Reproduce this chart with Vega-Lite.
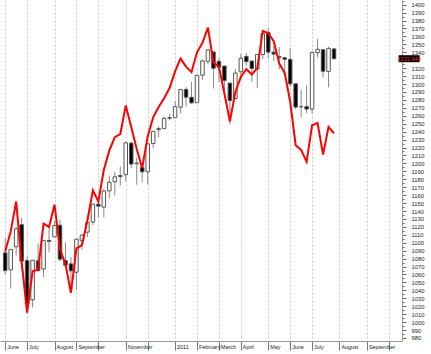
{
  "$schema": "https://vega.github.io/schema/vega-lite/v6.json",
  "width": 402,
  "height": 341,
  "autosize": {"type": "none"},
  "padding": {"left": 0, "top": 0, "right": 29, "bottom": 13},
  "background": "white",
  "config": {
    "view": {"stroke": null},
    "font": "Liberation Sans",
    "axis": {"labelFont": "Liberation Sans", "labelFontSize": 6, "labelColor": "#222", "labelOverlap": false, "labelFlush": false, "labelBound": false, "title": null},
    "axisY": {"grid": false, "domainColor": "#999", "tickColor": "#666", "labelPadding": 5, "labelFontSize": 5.8}
  },
  "data": {"values": [
    {"date": "2010-06-04T00:00:00", "open": 1087.3, "high": 1105.7, "low": 1060.0, "close": 1064.9, "red": 1089},
    {"date": "2010-06-11T00:00:00", "open": 1065.8, "high": 1092.0, "low": 1042.2, "close": 1091.6, "red": 1114},
    {"date": "2010-06-18T00:00:00", "open": 1095.0, "high": 1120.0, "low": 1084.0, "close": 1117.5, "red": 1152},
    {"date": "2010-06-25T00:00:00", "open": 1122.8, "high": 1131.2, "low": 1067.0, "close": 1076.8, "red": 1076},
    {"date": "2010-07-02T00:00:00", "open": 1077.5, "high": 1082.6, "low": 1010.9, "close": 1022.6, "red": 1012},
    {"date": "2010-07-09T00:00:00", "open": 1028.1, "high": 1078.2, "low": 1018.4, "close": 1078.0, "red": 1064},
    {"date": "2010-07-16T00:00:00", "open": 1077.2, "high": 1099.1, "low": 1063.3, "close": 1064.9, "red": 1066},
    {"date": "2010-07-23T00:00:00", "open": 1066.9, "high": 1103.7, "low": 1056.9, "close": 1102.7, "red": 1124},
    {"date": "2010-07-30T00:00:00", "open": 1102.9, "high": 1121.0, "low": 1088.0, "close": 1101.6, "red": 1120},
    {"date": "2010-08-06T00:00:00", "open": 1107.5, "high": 1127.3, "low": 1107.5, "close": 1121.6, "red": 1148},
    {"date": "2010-08-13T00:00:00", "open": 1122.1, "high": 1129.2, "low": 1076.6, "close": 1079.3, "red": 1092},
    {"date": "2010-08-20T00:00:00", "open": 1077.6, "high": 1100.1, "low": 1069.0, "close": 1071.7, "red": 1073},
    {"date": "2010-08-27T00:00:00", "open": 1073.4, "high": 1081.6, "low": 1039.7, "close": 1064.6, "red": 1037},
    {"date": "2010-09-03T00:00:00", "open": 1062.9, "high": 1105.1, "low": 1040.9, "close": 1104.5, "red": 1093},
    {"date": "2010-09-10T00:00:00", "open": 1102.6, "high": 1110.9, "low": 1091.2, "close": 1109.6, "red": 1097},
    {"date": "2010-09-17T00:00:00", "open": 1113.4, "high": 1131.5, "low": 1107.4, "close": 1125.6, "red": 1128},
    {"date": "2010-09-24T00:00:00", "open": 1126.1, "high": 1148.9, "low": 1122.3, "close": 1148.7, "red": 1166},
    {"date": "2010-10-01T00:00:00", "open": 1148.6, "high": 1157.2, "low": 1132.1, "close": 1146.1, "red": 1152},
    {"date": "2010-10-08T00:00:00", "open": 1145.0, "high": 1167.7, "low": 1131.9, "close": 1165.2, "red": 1192},
    {"date": "2010-10-15T00:00:00", "open": 1165.3, "high": 1184.4, "low": 1155.7, "close": 1176.2, "red": 1216},
    {"date": "2010-10-22T00:00:00", "open": 1176.8, "high": 1189.4, "low": 1159.7, "close": 1183.1, "red": 1233},
    {"date": "2010-10-29T00:00:00", "open": 1184.7, "high": 1196.1, "low": 1171.7, "close": 1183.3, "red": 1237},
    {"date": "2010-11-05T00:00:00", "open": 1185.7, "high": 1227.1, "low": 1177.7, "close": 1225.9, "red": 1273},
    {"date": "2010-11-12T00:00:00", "open": 1225.6, "high": 1226.8, "low": 1194.1, "close": 1199.2, "red": 1246},
    {"date": "2010-11-19T00:00:00", "open": 1200.4, "high": 1207.4, "low": 1173.0, "close": 1199.7, "red": 1218},
    {"date": "2010-11-26T00:00:00", "open": 1194.8, "high": 1198.9, "low": 1176.0, "close": 1189.4, "red": 1194},
    {"date": "2010-12-03T00:00:00", "open": 1189.4, "high": 1225.6, "low": 1173.6, "close": 1224.7, "red": 1234},
    {"date": "2010-12-10T00:00:00", "open": 1225.0, "high": 1240.4, "low": 1219.6, "close": 1240.4, "red": 1258},
    {"date": "2010-12-17T00:00:00", "open": 1242.5, "high": 1246.7, "low": 1232.9, "close": 1243.9, "red": 1271},
    {"date": "2010-12-24T00:00:00", "open": 1243.9, "high": 1259.4, "low": 1243.9, "close": 1256.8, "red": 1282},
    {"date": "2010-12-31T00:00:00", "open": 1256.8, "high": 1262.6, "low": 1254.2, "close": 1257.6, "red": 1295},
    {"date": "2011-01-07T00:00:00", "open": 1257.6, "high": 1278.2, "low": 1257.6, "close": 1271.5, "red": 1316},
    {"date": "2011-01-14T00:00:00", "open": 1270.8, "high": 1293.2, "low": 1262.7, "close": 1293.2, "red": 1332},
    {"date": "2011-01-21T00:00:00", "open": 1293.2, "high": 1296.1, "low": 1271.3, "close": 1283.4, "red": 1322},
    {"date": "2011-01-28T00:00:00", "open": 1283.3, "high": 1302.7, "low": 1275.1, "close": 1276.3, "red": 1315},
    {"date": "2011-02-04T00:00:00", "open": 1276.5, "high": 1311.0, "low": 1276.5, "close": 1310.9, "red": 1340},
    {"date": "2011-02-11T00:00:00", "open": 1311.2, "high": 1330.8, "low": 1305.3, "close": 1329.2, "red": 1352},
    {"date": "2011-02-18T00:00:00", "open": 1328.7, "high": 1344.1, "low": 1324.6, "close": 1343.0, "red": 1371},
    {"date": "2011-02-25T00:00:00", "open": 1340.4, "high": 1340.4, "low": 1294.3, "close": 1319.9, "red": 1327},
    {"date": "2011-03-04T00:00:00", "open": 1328.6, "high": 1332.3, "low": 1302.6, "close": 1321.2, "red": 1322},
    {"date": "2011-03-11T00:00:00", "open": 1322.7, "high": 1322.7, "low": 1291.3, "close": 1304.3, "red": 1288},
    {"date": "2011-03-18T00:00:00", "open": 1301.2, "high": 1301.2, "low": 1249.1, "close": 1279.2, "red": 1253},
    {"date": "2011-03-25T00:00:00", "open": 1281.7, "high": 1319.2, "low": 1281.7, "close": 1313.8, "red": 1290},
    {"date": "2011-04-01T00:00:00", "open": 1315.5, "high": 1337.9, "low": 1305.3, "close": 1332.4, "red": 1309},
    {"date": "2011-04-08T00:00:00", "open": 1334.8, "high": 1339.5, "low": 1322.9, "close": 1328.2, "red": 1319},
    {"date": "2011-04-15T00:00:00", "open": 1329.0, "high": 1329.0, "low": 1302.6, "close": 1319.7, "red": 1312},
    {"date": "2011-04-22T00:00:00", "open": 1319.1, "high": 1337.5, "low": 1294.7, "close": 1337.4, "red": 1320},
    {"date": "2011-04-29T00:00:00", "open": 1337.1, "high": 1364.6, "low": 1331.5, "close": 1363.6, "red": 1367},
    {"date": "2011-05-06T00:00:00", "open": 1365.2, "high": 1370.6, "low": 1332.5, "close": 1340.2, "red": 1364},
    {"date": "2011-05-13T00:00:00", "open": 1340.2, "high": 1348.0, "low": 1329.0, "close": 1337.8, "red": 1354},
    {"date": "2011-05-20T00:00:00", "open": 1334.8, "high": 1346.8, "low": 1318.5, "close": 1333.3, "red": 1326},
    {"date": "2011-05-27T00:00:00", "open": 1333.1, "high": 1334.2, "low": 1311.8, "close": 1331.1, "red": 1314},
    {"date": "2011-06-03T00:00:00", "open": 1331.1, "high": 1345.2, "low": 1296.8, "close": 1300.2, "red": 1278},
    {"date": "2011-06-10T00:00:00", "open": 1300.3, "high": 1300.3, "low": 1268.3, "close": 1271.0, "red": 1223},
    {"date": "2011-06-17T00:00:00", "open": 1271.3, "high": 1292.5, "low": 1258.1, "close": 1271.5, "red": 1217},
    {"date": "2011-06-24T00:00:00", "open": 1271.5, "high": 1298.6, "low": 1262.9, "close": 1268.5, "red": 1202},
    {"date": "2011-07-01T00:00:00", "open": 1268.4, "high": 1341.0, "low": 1262.7, "close": 1339.7, "red": 1248},
    {"date": "2011-07-08T00:00:00", "open": 1339.6, "high": 1356.5, "low": 1333.5, "close": 1343.8, "red": 1251},
    {"date": "2011-07-15T00:00:00", "open": 1343.3, "high": 1343.3, "low": 1308.5, "close": 1316.1, "red": 1211},
    {"date": "2011-07-22T00:00:00", "open": 1315.9, "high": 1347.0, "low": 1295.9, "close": 1345.0, "red": 1246},
    {"date": "2011-07-29T00:00:00", "open": 1344.3, "high": 1344.3, "low": 1331.1, "close": 1331.9, "red": 1238}
  ]},
  "encoding": {
    "x": {
      "field": "date",
      "type": "temporal",
      "scale": {"domain": [{"year": 2010, "month": 6, "date": 3, "hours": 18}, {"year": 2011, "month": 10, "date": 17, "hours": 11}]},
      "axis": {
        "orient": "bottom",
        "values": [
          {"year": 2010, "month": 6, "date": 4}, {"year": 2010, "month": 7, "date": 2}, {"year": 2010, "month": 8, "date": 6},
          {"year": 2010, "month": 9, "date": 3}, {"year": 2010, "month": 10, "date": 1}, {"year": 2010, "month": 11, "date": 5},
          {"year": 2010, "month": 12, "date": 3}, {"year": 2011, "month": 1, "date": 7}, {"year": 2011, "month": 2, "date": 4},
          {"year": 2011, "month": 3, "date": 4}, {"year": 2011, "month": 4, "date": 1}, {"year": 2011, "month": 5, "date": 6},
          {"year": 2011, "month": 6, "date": 3}, {"year": 2011, "month": 7, "date": 1}, {"year": 2011, "month": 8, "date": 5},
          {"year": 2011, "month": 9, "date": 9}, {"year": 2011, "month": 10, "date": 7}
        ],
        "tickCount": 1000,
        "grid": true,
        "gridDash": [2, 2],
        "gridColor": "#c8c8c8",
        "gridWidth": 1,
        "tickSize": 9,
        "tickColor": "#777",
        "domainColor": "#999",
        "labelExpr": "(month(datum.value) == 9 || month(datum.value) == 11) ? '' : (month(datum.value) == 0 ? timeFormat(datum.value, '%Y') : timeFormat(datum.value, '%B'))",
        "labelAlign": "left",
        "labelBaseline": "middle",
        "labelFontSize": 5.4,
        "labelOffset": 1.5,
        "labelPadding": -4
      }
    }
  },
  "layer": [
    {
      "mark": {"type": "rule", "color": "#888", "strokeWidth": 1},
      "encoding": {
        "y": {
          "field": "low",
          "type": "quantitative",
          "scale": {"domain": [976.2, 1405.9], "nice": false, "zero": false},
          "axis": {
            "orient": "right",
            "values": [980, 985, 990, 995, 1000, 1005, 1010, 1015, 1020, 1025, 1030, 1035, 1040, 1045, 1050, 1055, 1060, 1065, 1070, 1075, 1080, 1085, 1090, 1095, 1100, 1105, 1110, 1115, 1120, 1125, 1130, 1135, 1140, 1145, 1150, 1155, 1160, 1165, 1170, 1175, 1180, 1185, 1190, 1195, 1200, 1205, 1210, 1215, 1220, 1225, 1230, 1235, 1240, 1245, 1250, 1255, 1260, 1265, 1270, 1275, 1280, 1285, 1290, 1295, 1300, 1305, 1310, 1315, 1320, 1325, 1330, 1335, 1340, 1345, 1350, 1355, 1360, 1365, 1370, 1375, 1380, 1385, 1390, 1395, 1400, 1405],
            "tickCount": 1000,
            "tickSize": {"condition": {"test": "datum.value % 10 == 0", "value": 4}, "value": 2},
            "labelExpr": "(datum.value % 10 == 0 && datum.value != 1330) ? format(datum.value, 'd') : ''"
          }
        },
        "y2": {"field": "high"}
      }
    },
    {
      "mark": {"type": "bar", "size": 3.5, "stroke": "#555", "strokeWidth": 1},
      "encoding": {
        "y": {"field": "open", "type": "quantitative", "scale": {"domain": [976.2, 1405.9], "nice": false, "zero": false}},
        "y2": {"field": "close"},
        "fill": {"condition": {"test": "datum.open > datum.close", "value": "#000000"}, "value": "#ffffff"}
      }
    },
    {
      "mark": {"type": "line", "color": "#ff0000", "strokeWidth": 2},
      "encoding": {
        "y": {"field": "red", "type": "quantitative", "scale": {"domain": [976.2, 1405.9], "nice": false, "zero": false}}
      }
    },
    {
      "data": {"values": [{"date": "2011-11-02T00:00:00", "last": 1331.94, "tag": "1331.940"}]},
      "mark": {"type": "tick", "orient": "horizontal", "color": "#000000", "size": 21, "thickness": 7, "opacity": 1, "clip": false},
      "encoding": {
        "y": {"field": "last", "type": "quantitative", "scale": {"domain": [976.2, 1405.9], "nice": false, "zero": false}}
      }
    },
    {
      "data": {"values": [{"date": "2011-11-02T00:00:00", "last": 1331.94, "tag": "1331.940"}]},
      "mark": {"type": "text", "color": "#ff2a2a", "fontSize": 5.6, "align": "center", "baseline": "middle", "font": "Liberation Sans", "clip": false},
      "encoding": {
        "y": {"field": "last", "type": "quantitative", "scale": {"domain": [976.2, 1405.9], "nice": false, "zero": false}},
        "text": {"field": "tag"}
      }
    }
  ]
}
